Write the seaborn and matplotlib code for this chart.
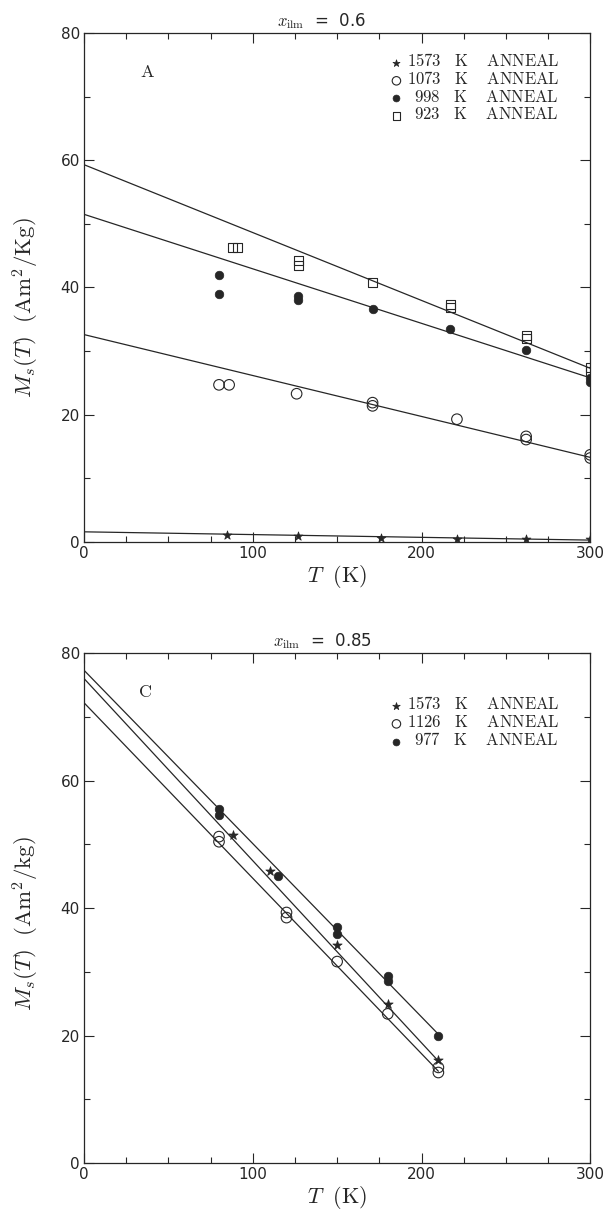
import numpy as np
import pandas as pd
import matplotlib
matplotlib.use("Agg")
import matplotlib.pyplot as plt
from matplotlib.ticker import MultipleLocator
import seaborn as sns

# ---------------- data: panel A (x_ilm = 0.6) ----------------
a_T_1573 = [85, 127, 176, 221, 262, 300]
a_M_1573 = [1.1, 0.9, 0.6, 0.5, 0.5, 0.4]
a_T_1073 = [80, 86, 126, 171, 171, 221, 262, 262, 300, 300]
a_M_1073 = [24.7, 24.7, 23.3, 21.4, 21.9, 19.3, 16.1, 16.6, 13.2, 13.7]
a_T_998 = [80, 80, 127, 127, 171, 217, 262, 300, 300]
a_M_998 = [42.0, 39.0, 38.0, 38.6, 36.6, 33.5, 30.1, 25.2, 25.8]
a_T_923 = [88, 91, 127, 127, 171, 217, 217, 262, 262, 300, 300]
a_M_923 = [46.3, 46.3, 43.4, 44.2, 40.8, 36.8, 37.3, 32.0, 32.5, 26.8, 27.4]
a_fit_T = [0, 300]
a_fit_923 = [59.3, 27.3]
a_fit_998 = [51.5, 25.8]
a_fit_1073 = [32.6, 13.3]
a_fit_1573 = [1.6, 0.3]

# ---------------- data: panel C (x_ilm = 0.85) ----------------
c_T_1573 = [88, 110, 150, 180, 210]
c_M_1573 = [51.4, 45.8, 34.2, 24.9, 16.1]
c_T_1126 = [80, 80, 120, 120, 150, 180, 210, 210]
c_M_1126 = [51.2, 50.4, 39.3, 38.5, 31.6, 23.4, 15.0, 14.2]
c_T_977 = [80, 80, 115, 150, 150, 180, 180, 210]
c_M_977 = [55.6, 54.6, 45.0, 37.1, 36.0, 29.3, 28.6, 20.0]
c_fit_T = [0, 210]
c_fit_977 = [77.3, 20.2]
c_fit_1573 = [76.0, 16.0]
c_fit_1126 = [72.2, 14.4]

x_ticks = [0, 100, 200, 300]
y_ticks = [0, 20, 40, 60, 80]

sns.set_style("ticks")
plt.rcParams["font.family"] = ["DejaVu Sans"]
plt.rcParams["mathtext.fontset"] = "cm"

INK = "#262626"

fig = plt.figure(figsize=(6.07, 12.12), dpi=100)
axA = fig.add_axes([0.1384, 0.5528, 0.834, 0.420])
axC = fig.add_axes([0.1384, 0.0404, 0.834, 0.4208])


def style_axes(ax):
    ax.set_xlim(0, 300)
    ax.set_ylim(0, 80)
    ax.set_xticks(x_ticks)
    ax.set_yticks(y_ticks)
    ax.xaxis.set_minor_locator(MultipleLocator(25))
    ax.yaxis.set_minor_locator(MultipleLocator(10))
    ax.tick_params(which="both", direction="in", top=True, right=True,
                   colors=INK, labelsize=11, width=0.8, pad=3)
    ax.tick_params(which="major", length=7)
    ax.tick_params(which="minor", length=4.5)
    for s in ax.spines.values():
        s.set_color(INK)
        s.set_linewidth(0.9)
        s.set_visible(True)
    ax.set_facecolor("white")


def pts(ax, T, M, marker, s, filled, label):
    df = pd.DataFrame({"T": T, "M": M})
    if filled:
        sns.scatterplot(data=df, x="T", y="M", ax=ax, marker=marker, s=s,
                        color=INK, edgecolor=INK, linewidth=0.5,
                        label=label, zorder=3)
    else:
        sns.scatterplot(data=df, x="T", y="M", ax=ax, marker=marker, s=s,
                        facecolors="none", edgecolor=INK, linewidth=0.8,
                        label=label, zorder=3)


def fit(ax, T, M):
    sns.lineplot(x=T, y=M, ax=ax, color=INK, linewidth=0.9,
                 estimator=None, sort=False, zorder=2)


def lab(num, pad=False):
    p = r"\enspace " if pad else ""
    return r"$" + p + r"\mathrm{" + num + r"\quad K\quad\; ANNEAL}$"


LEG = dict(loc="upper right", frameon=False, fontsize=12,
           handlelength=0.5, handleheight=0.4, handletextpad=0.4,
           labelspacing=-0.02, borderaxespad=0.0, borderpad=0.0,
           markerscale=0.8)

# ---------- panel A ----------
for yv in (a_fit_923, a_fit_998, a_fit_1073, a_fit_1573):
    fit(axA, a_fit_T, yv)
pts(axA, a_T_1573, a_M_1573, "*", 45, True, lab("1573"))
pts(axA, a_T_1073, a_M_1073, "o", 58, False, lab("1073"))
pts(axA, a_T_998, a_M_998, "o", 38, True, lab("998", True))
pts(axA, a_T_923, a_M_923, "s", 44, False, lab("923", True))
style_axes(axA)
axA.set_title(r"$x_{\rm ilm}$  =  0.6", fontsize=12, pad=5, color=INK, x=0.47)
axA.set_xlabel(r"$T\ \ (\mathrm{K})$", fontsize=16, color=INK, labelpad=1)
axA.set_ylabel(r"$M_s(T)\ \ (\mathrm{Am}^2/\mathrm{Kg})$", fontsize=16.5,
               color=INK)
axA.yaxis.set_label_coords(-0.085, 0.46)
axA.text(0.125, 0.923, r"$\mathrm{A}$", transform=axA.transAxes,
         fontsize=13, color=INK, ha="center", va="center")
axA.legend(bbox_to_anchor=(0.94, 0.962), **LEG)

# ---------- panel C ----------
for yv in (c_fit_977, c_fit_1573, c_fit_1126):
    fit(axC, c_fit_T, yv)
pts(axC, c_T_1573, c_M_1573, "*", 50, True, lab("1573"))
pts(axC, c_T_1126, c_M_1126, "o", 58, False, lab("1126"))
pts(axC, c_T_977, c_M_977, "o", 38, True, lab("977", True))
style_axes(axC)
axC.set_title(r"$x_{\rm ilm}$  =  0.85", fontsize=12, pad=5, color=INK, x=0.47)
axC.set_xlabel(r"$T\ \ (\mathrm{K})$", fontsize=16, color=INK, labelpad=1)
axC.set_ylabel(r"$M_s(T)\ \ (\mathrm{Am}^2/\mathrm{kg})$", fontsize=16.5,
               color=INK)
axC.yaxis.set_label_coords(-0.085, 0.47)
axC.text(0.12, 0.923, r"$\mathrm{C}$", transform=axC.transAxes,
         fontsize=13, color=INK, ha="center", va="center")
axC.legend(bbox_to_anchor=(0.94, 0.917), **LEG)

fig.savefig("out.png", dpi=100, facecolor="white")
